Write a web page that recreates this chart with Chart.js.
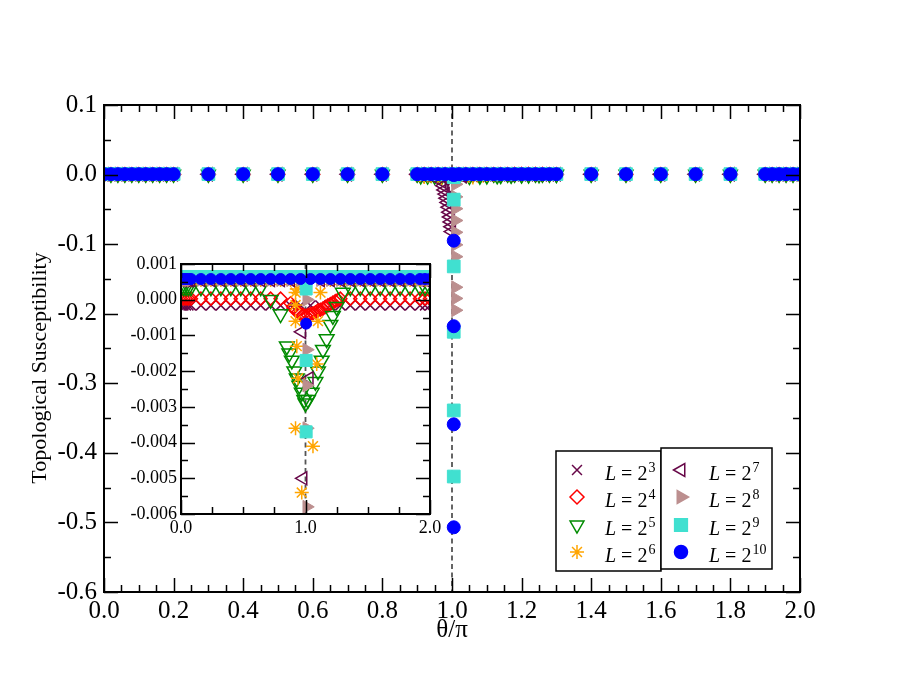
<!DOCTYPE html>
<html>
<head>
<meta charset="utf-8">
<title>Topological Susceptibility</title>
<script src="https://cdn.jsdelivr.net/npm/chart.js@4.4.1/dist/chart.umd.min.js"></script>
<style>
  html, body { margin: 0; padding: 0; background: #fff; }
  #wrap { position: relative; width: 900px; height: 695px; }
  #grafico { position: absolute; left: 0; top: 0; }
  #detalhe { position: absolute; left: 120px; top: 245px; }
</style>
</head>
<body>
<div id="wrap">
  <canvas id="grafico" width="900" height="695"></canvas>
  <canvas id="detalhe" width="330" height="300"></canvas>
</div>
<script>
// L = 2^n for each series
const expoentes = [3, 4, 5, 6, 7, 8, 9, 10];

// theta/pi values sampled in the main panel
const thetaMain = [
  0.00, 0.02, 0.04, 0.06, 0.08, 0.10, 0.12, 0.14, 0.16, 0.18, 0.20,
  0.30, 0.40, 0.50, 0.60, 0.70, 0.80,
  0.90, 0.92, 0.94, 0.96, 0.98, 1.00, 1.02, 1.04, 1.06, 1.08, 1.10,
  1.12, 1.14, 1.16, 1.18, 1.20, 1.22, 1.24, 1.26, 1.28, 1.30,
  1.40, 1.50, 1.60, 1.70, 1.80,
  1.90, 1.92, 1.94, 1.96, 1.98, 2.00
];
// fine sampling window around theta = pi in the main panel
const janelaMain = [0.90, 1.30];

// theta/pi values sampled in the inset
const thetaInset = [
  0.00, 0.02, 0.04, 0.06, 0.08, 0.16, 0.24, 0.32, 0.40, 0.48, 0.56, 0.64,
  0.72, 0.80, 0.88, 0.96, 1.04, 1.12, 1.20, 1.28, 1.36, 1.44, 1.52, 1.60,
  1.68, 1.76, 1.84, 1.92, 1.96, 2.00
];

// flat value of the susceptibility away from theta = pi (one per L)
const chiFlat = [-0.00016, 0.00003, 0.00035, 0.00055, 0.00055, 0.00055, 0.00065, 0.00058];

// points around theta = pi
const near3Theta = [];
const near3Chi = [];
const near4Theta = [0.88, 0.90, 0.92, 0.94, 0.96, 0.98, 1.00, 1.02, 1.04, 1.06,
                    1.08, 1.10, 1.12, 1.14, 1.16, 1.18, 1.20, 1.22, 1.24, 1.26];
const near4Chi = [-0.0001, -0.0002, -0.0003, -0.00035, -0.0004, -0.00042, -0.00045, -0.00043, -0.0004, -0.00038,
                  -0.00035, -0.0003, -0.00028, -0.00025, -0.0002, -0.00016, -0.00012, -0.00008, -0.00004, 0.0];
const near5Theta = [0.72, 0.80, 0.85, 0.87, 0.89, 0.91, 0.93, 0.95, 0.97, 0.99, 1.00,
                    1.02, 1.05, 1.08, 1.10, 1.13, 1.14, 1.17, 1.20, 1.22, 1.25, 1.30];
const near5Chi = [0.0, -0.0004, -0.0013, -0.0015, -0.0017, -0.0020, -0.0022, -0.0024, -0.0026, -0.0028, -0.0029,
                  -0.0028, -0.0026, -0.0023, -0.0020, -0.0017, -0.0014, -0.0011, -0.0007, -0.00045, -0.0002, 0.0002];
const near6Theta = [0.92, 0.93, 0.92, 0.92, 0.93, 0.94, 0.92, 0.97, 1.06, 1.09, 1.10, 1.12];
const near6Chi = [0.0002, 0.0003, -0.00015, -0.0006, -0.0013, -0.0022, -0.0036, -0.0054, -0.0041, -0.0018, -0.0006, 0.0002];
const near7Theta = [0.97, 1.03, 0.98, 0.970, 0.975, 0.978, 0.981, 0.984, 0.987, 0.990, 0.992, 0.994, 0.996, 0.998, 0.999];
const near7Chi = [-0.0009, -0.0022, -0.0050, -0.010, -0.016, -0.022, -0.028, -0.034, -0.040, -0.047, -0.054, -0.061, -0.068, -0.075, -0.082];
const near8Theta = [1.01, 1.01, 1.01, 1.01, 1.01, 1.01, 1.01, 1.01, 1.01, 1.01, 1.01, 1.01, 1.01, 1.01, 1.01];
const near8Chi = [0.0, -0.0014, -0.0024, -0.0036, -0.0058, -0.014, -0.032, -0.049, -0.066, -0.083, -0.101, -0.118, -0.162, -0.178, -0.195];
const near9Theta = [1.005, 1.005, 1.005, 1.005, 1.005, 1.005, 1.005, 1.005];
const near9Chi = [0.0003, -0.0017, -0.0037, -0.036, -0.132, -0.226, -0.339, -0.434];
const near10Theta = [1.005, 1.005, 1.005, 1.005, 1.005];
const near10Chi = [-0.00067, -0.095, -0.218, -0.359, -0.507];

// axis ticks
const xTicksMain = [0.0, 0.2, 0.4, 0.6, 0.8, 1.0, 1.2, 1.4, 1.6, 1.8, 2.0];
const yTicksMain = [0.1, 0.0, -0.1, -0.2, -0.3, -0.4, -0.5, -0.6];
const xTicksInset = [0.0, 1.0, 2.0];
const yTicksInset = [0.001, 0.000, -0.001, -0.002, -0.003, -0.004, -0.005, -0.006];

const nearTheta = [near3Theta, near4Theta, near5Theta, near6Theta, near7Theta, near8Theta, near9Theta, near10Theta];
const nearChi = [near3Chi, near4Chi, near5Chi, near6Chi, near7Chi, near8Chi, near9Chi, near10Chi];

// marker look of each series (xmgrace colours)
const estilos = [
  { forma: 'crossRot', rot: 0,   cor: '#670748', cheio: false, r: 7,   rInset: 7 },
  { forma: 'rectRot',  rot: 0,   cor: '#ff0000', cheio: false, r: 7,   rInset: 6.5 },
  { forma: 'triangle', rot: 180, cor: '#008b00', cheio: false, r: 8,   rInset: 8.5 },
  { forma: 'star',     rot: 0,   cor: '#ffa500', cheio: false, r: 7,   rInset: 7 },
  { forma: 'triangle', rot: 270, cor: '#670748', cheio: false, r: 7.5, rInset: 7.5 },
  { forma: 'triangle', rot: 90,  cor: '#bc8f8f', cheio: true,  r: 7.5, rInset: 7.5 },
  { forma: 'rect',     rot: 0,   cor: '#40e0d0', cheio: true,  r: 9,   rInset: 8.5 },
  { forma: 'circle',   rot: 0,   cor: '#0000ff', cheio: true,  r: 6.5, rInset: 5.5 }
];

const FONTE = "'Liberation Serif', 'Times New Roman', serif";
Chart.defaults.font.family = FONTE;
Chart.defaults.color = '#000';

function pontos(theta, chi) {
  return theta.map((t, k) => ({ x: t, y: chi[k] }));
}

// flat row on a grid plus the points near theta = pi
function dadosSerie(i, grade, inset) {
  let linha = grade;
  let perto = pontos(nearTheta[i], nearChi[i]);
  if (inset && nearTheta[i].length > 0) {
    const lo = Math.min(...nearTheta[i]) - 0.01;
    const hi = Math.max(...nearTheta[i]) + 0.01;
    linha = grade.filter(t => t < lo || t > hi);
  }
  if (!inset) {
    perto = perto.filter(p => p.x >= janelaMain[0] && p.x <= janelaMain[1]);
  }
  return linha.map(t => ({ x: t, y: chiFlat[i] })).concat(perto);
}

function montarDatasets(grade, inset) {
  return expoentes.map((n, i) => {
    const e = estilos[i];
    return {
      label: 'L = 2^' + n,
      data: dadosSerie(i, grade, inset),
      pointStyle: e.forma,
      pointRotation: e.rot,
      pointRadius: inset ? e.rInset : e.r,
      pointHoverRadius: inset ? e.rInset : e.r,
      pointBorderColor: e.cor,
      pointBackgroundColor: e.cheio ? e.cor : 'rgba(0,0,0,0)',
      pointBorderWidth: e.cheio ? 1 : 1.5,
      showLine: false,
      order: 8 - i
    };
  });
}

function rotulo(v, casas) {
  if (Math.abs(v) < 1e-12) return (0).toFixed(casas);
  return v.toFixed(casas);
}

// frame, inward ticks on all sides and the dashed line at theta = pi
const moldura = {
  id: 'moldura',
  beforeDatasetsDraw(chart, args, opts) {
    const { ctx, chartArea: a, scales: { x } } = chart;
    const px = x.getPixelForValue(1.0);
    ctx.save();
    ctx.strokeStyle = '#555';
    ctx.lineWidth = 1.8;
    ctx.setLineDash([5, 3.5]);
    ctx.beginPath();
    ctx.moveTo(px, a.top);
    ctx.lineTo(px, a.bottom);
    ctx.stroke();
    ctx.restore();
  },
  afterDatasetsDraw(chart, args, opts) {
    const { ctx, chartArea: a, scales: { x, y } } = chart;
    ctx.save();
    ctx.strokeStyle = '#000';
    ctx.lineWidth = 1.5;
    ctx.beginPath();
    const nx = Math.round((x.max - x.min) / opts.xMinor);
    for (let k = 0; k <= nx; k++) {
      const v = x.min + k * opts.xMinor;
      const maior = Math.abs(v / opts.xMajor - Math.round(v / opts.xMajor)) < 1e-6;
      const len = maior ? 14 : 7;
      const px = Math.round(x.getPixelForValue(v)) + 0.5;
      ctx.moveTo(px, a.bottom); ctx.lineTo(px, a.bottom - len);
      ctx.moveTo(px, a.top); ctx.lineTo(px, a.top + len);
    }
    const ny = Math.round((y.max - y.min) / opts.yMinor);
    for (let k = 0; k <= ny; k++) {
      const v = y.min + k * opts.yMinor;
      const maior = Math.abs(v / opts.yMajor - Math.round(v / opts.yMajor)) < 1e-6;
      const len = maior ? 14 : 7;
      const py = Math.round(y.getPixelForValue(v)) + 0.5;
      ctx.moveTo(a.left, py); ctx.lineTo(a.left + len, py);
      ctx.moveTo(a.right, py); ctx.lineTo(a.right - len, py);
    }
    ctx.stroke();
    ctx.lineWidth = 2;
    ctx.strokeRect(a.left, a.top, a.right - a.left, a.bottom - a.top);
    ctx.restore();
  }
};

// y title and the two boxed legend columns of the main panel
const extras = {
  id: 'extras',
  afterDraw(chart) {
    const ctx = chart.ctx;
    ctx.save();
    ctx.fillStyle = '#000';
    ctx.font = '22px ' + FONTE;
    ctx.textAlign = 'center';
    ctx.textBaseline = 'middle';
    ctx.translate(40, 368);
    ctx.rotate(-Math.PI / 2);
    ctx.fillText('Topological Susceptibility', 0, 0);
    ctx.restore();

    const caixas = [
      { x: 556, y: 451, w: 105, h: 120, itens: [0, 1, 2, 3], mx: 577, tx: 605 },
      { x: 661, y: 448, w: 111, h: 121, itens: [4, 5, 6, 7], mx: 681, tx: 709 }
    ];
    const linhas = [470, 497, 525, 552];
    ctx.save();
    caixas.forEach(c => {
      ctx.fillStyle = '#fff';
      ctx.fillRect(c.x, c.y, c.w, c.h);
      ctx.strokeStyle = '#000';
      ctx.lineWidth = 1.5;
      ctx.strokeRect(c.x, c.y, c.w, c.h);
      c.itens.forEach((i, k) => {
        const e = estilos[i];
        const yy = linhas[k];
        ctx.save();
        ctx.strokeStyle = e.cor;
        ctx.fillStyle = e.cheio ? e.cor : 'rgba(0,0,0,0)';
        Chart.helpers.drawPoint(ctx, {
          pointStyle: e.forma, rotation: e.rot, radius: e.r, borderWidth: e.cheio ? 1 : 1.5
        }, c.mx, yy);
        ctx.restore();

        ctx.fillStyle = '#000';
        ctx.textAlign = 'left';
        ctx.textBaseline = 'alphabetic';
        let xx = c.tx;
        ctx.font = 'italic 20px ' + FONTE;
        ctx.fillText('L', xx, yy + 10);
        xx += ctx.measureText('L').width;
        ctx.font = '20px ' + FONTE;
        ctx.fillText(' = 2', xx, yy + 10);
        xx += ctx.measureText(' = 2').width + 1;
        ctx.font = '14px ' + FONTE;
        ctx.fillText(String(expoentes[i]), xx, yy + 2);
      });
    });
    ctx.restore();
  }
};

// main panel
const grafico = new Chart(document.getElementById('grafico'), {
  type: 'scatter',
  data: { datasets: montarDatasets(thetaMain, false) },
  options: {
    responsive: false,
    animation: false,
    devicePixelRatio: 1,
    events: [],
    layout: { padding: { top: 105, right: 100, left: 0, bottom: 0 } },
    plugins: {
      legend: { display: false },
      tooltip: { enabled: false },
      moldura: { xMajor: 0.2, xMinor: 0.05, yMajor: 0.1, yMinor: 0.05 }
    },
    scales: {
      x: {
        type: 'linear', min: 0, max: 2,
        afterFit: s => { s.height = 103; },
        afterBuildTicks: s => { s.ticks = xTicksMain.map(v => ({ value: v })); },
        grid: { display: false, drawTicks: false },
        border: { display: false },
        ticks: { font: { size: 25 }, padding: 4, maxRotation: 0, autoSkip: false, callback: v => rotulo(v, 1) },
        title: { display: true, text: 'θ/π', font: { size: 25 }, padding: { top: 0, bottom: 50 } }
      },
      y: {
        type: 'linear', min: -0.6, max: 0.1,
        afterFit: s => { s.width = 104; },
        afterBuildTicks: s => { s.ticks = yTicksMain.map(v => ({ value: v })); },
        grid: { display: false, drawTicks: false },
        border: { display: false },
        ticks: { font: { size: 25 }, padding: 7, autoSkip: false, callback: v => rotulo(v, 1) }
      }
    }
  },
  plugins: [moldura, extras]
});

// inset, zoom on the small values
const detalhe = new Chart(document.getElementById('detalhe'), {
  type: 'scatter',
  data: { datasets: montarDatasets(thetaInset, true) },
  options: {
    responsive: false,
    animation: false,
    devicePixelRatio: 1,
    events: [],
    layout: { padding: { top: 19, right: 20, left: 0, bottom: 0 } },
    plugins: {
      legend: { display: false },
      tooltip: { enabled: false },
      moldura: { xMajor: 1.0, xMinor: 0.25, yMajor: 0.001, yMinor: 0.0005 }
    },
    scales: {
      x: {
        type: 'linear', min: 0, max: 2,
        afterFit: s => { s.height = 31; },
        afterBuildTicks: s => { s.ticks = xTicksInset.map(v => ({ value: v })); },
        grid: { display: false, drawTicks: false },
        border: { display: false },
        ticks: { font: { size: 18 }, padding: 3, maxRotation: 0, autoSkip: false, callback: v => rotulo(v, 1) }
      },
      y: {
        type: 'linear', min: -0.006, max: 0.001,
        afterFit: s => { s.width = 61; },
        afterBuildTicks: s => { s.ticks = yTicksInset.map(v => ({ value: v })); },
        grid: { display: false, drawTicks: false },
        border: { display: false },
        ticks: { font: { size: 18 }, padding: 4, autoSkip: false, callback: v => rotulo(v, 3) }
      }
    }
  },
  plugins: [moldura]
});
</script>
</body>
</html>
